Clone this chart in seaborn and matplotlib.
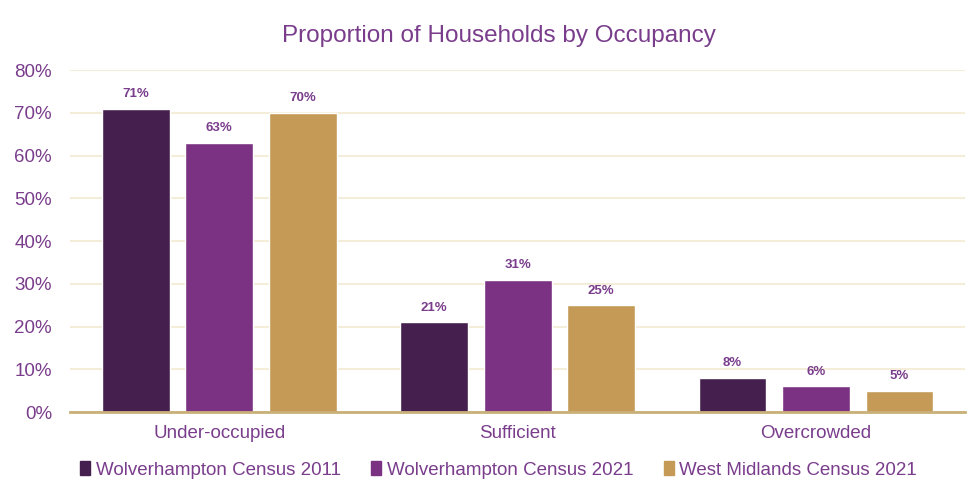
import pandas as pd
import numpy as np
import seaborn as sns
import matplotlib.pyplot as plt
from matplotlib.patches import Patch

categorias = ['Under-occupied', 'Sufficient', 'Overcrowded']
series = ['Wolverhampton Census 2011', 'Wolverhampton Census 2021', 'West Midlands Census 2021']
wolv_2011 = [71, 21, 8]
wolv_2021 = [63, 31, 6]
west_mid_2021 = [70, 25, 5]
colores = ['#45204f', '#7b3282', '#c49a56']

texto = '#7a3d8c'

datos = pd.DataFrame({
    'ocupacion': categorias * 3,
    'serie': [series[0]] * 3 + [series[1]] * 3 + [series[2]] * 3,
    'valor': wolv_2011 + wolv_2021 + west_mid_2021,
})

sns.set_style('white')
plt.rcParams['font.family'] = ['Liberation Sans', 'DejaVu Sans']

fig = plt.figure(figsize=(9.74, 4.97), dpi=100)
ax = fig.add_axes([0.072, 0.171, 0.919, 0.688])

sns.barplot(data=datos, x='ocupacion', y='valor', hue='serie', order=categorias,
            hue_order=series, palette=colores, width=0.84, gap=0.19,
            saturation=1, ax=ax, legend=False)

for cont in ax.containers:
    ax.bar_label(cont, labels=[f'{v:.0f}%' for v in cont.datavalues], padding=6,
                 color=texto, fontsize=9.5, fontweight='semibold')

ax.set_ylim(0, 80)
ax.set_xlim(-0.5, 2.5)
ax.set_yticks(range(0, 81, 10))
ax.set_yticklabels([f'{v}%' for v in range(0, 81, 10)], color=texto, fontsize=13.5)
ax.tick_params(axis='y', length=0, pad=13)
ax.tick_params(axis='x', length=0, pad=9, labelsize=13.5, labelcolor=texto)
ax.yaxis.grid(True, color='#f3edd9', linewidth=1.5)
ax.set_axisbelow(True)
for lado in ['left', 'right', 'top']:
    ax.spines[lado].set_visible(False)
ax.spines['bottom'].set_color('#c9b078')
ax.spines['bottom'].set_linewidth(2)
ax.set_xlabel('')
ax.set_ylabel('')

fig.suptitle('Proportion of Households by Occupancy', x=0.512, y=0.95,
             color=texto, fontsize=17.5)

handles = [Patch(color=c, label=s) for c, s in zip(colores, series)]
fig.legend(handles=handles, loc='center', bbox_to_anchor=(0.512, 0.055), ncol=3,
           frameon=False, fontsize=13.5, labelcolor=texto, handlelength=0.55,
           handleheight=0.8, handletextpad=0.3, columnspacing=1.6)

plt.savefig('out.png', dpi=100)
